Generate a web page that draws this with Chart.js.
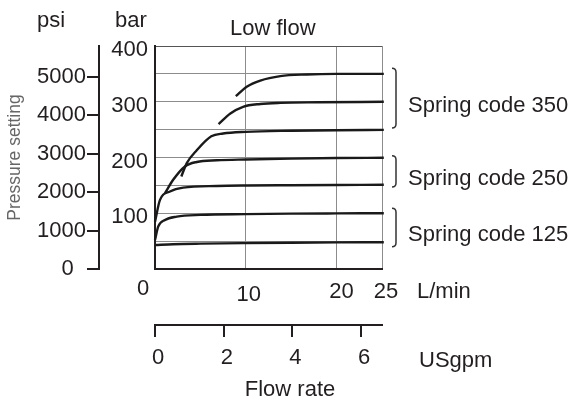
<!DOCTYPE html>
<html lang="en">
  <head>
    <meta charset="UTF-8" />
    <title>Low flow pressure setting</title>
    <script src="https://cdn.jsdelivr.net/npm/chart.js"></script>
    <style>
      body {
        margin: 0;
        background: #fff;
      }
      canvas {
        display: block;
      }
    </style>
  </head>
  <body>
    <canvas id="myChart" width="576" height="403"></canvas>
    <script>
      // flow in L/min, pressure in bar
      const curve1Flow = [0, 2, 5, 10, 15, 20, 25.2];
      const curve1Bar = [43, 44.5, 45.5, 46.5, 47.2, 47.7, 48];
      const curve2Flow = [0, 0.35, 1.1, 2.4, 5, 10, 15, 20, 25.2];
      const curve2Bar = [52, 76, 88, 94, 97, 98.5, 99.3, 99.7, 100];
      const curve3Flow = [0, 0.55, 1.65, 3.1, 6.8, 10, 15, 20, 25.2];
      const curve3Bar = [85, 124, 139, 146, 149, 149.8, 150.3, 150.7, 151];
      const curve4Flow = [1.1, 2.0, 3.3, 4.6, 6.8, 10, 15, 20, 25.2];
      const curve4Bar = [136, 160, 184, 192, 195, 196.5, 198, 199, 199.5];
      const curve5Flow = [2.9, 3.5, 4.6, 6.2, 7.5, 10, 15, 20, 25.2];
      const curve5Bar = [166, 190, 213, 238, 243, 246, 248, 249, 249.5];
      const curve6Flow = [7.0, 8.3, 9.7, 11.6, 13.8, 18, 25.2];
      const curve6Bar = [260, 279, 291, 296, 298, 299, 300];
      const curve7Flow = [8.9, 10.1, 11.6, 13.8, 16.7, 20, 25.2];
      const curve7Bar = [310, 327, 338, 346, 349, 350, 350];

      const flowTicks = [0, 10, 20, 25];
      const gpmTicks = [0, 2, 4, 6];
      const psiTicks = [0, 1000, 2000, 3000, 4000, 5000];

      // spring code groups: label and bar range covered by the bracket
      const springLabels = ["Spring code 350", "Spring code 250", "Spring code 125"];
      const springLow = [253, 147, 40];
      const springHigh = [360, 203, 109];

      const LPM_PER_GPM = 3.78541;
      const PSI_PER_BAR = 14.5038;
      const FONT = '"Liberation Sans", Arial, sans-serif';
      const INK = "#231f20";

      function pts(xs, ys) {
        return xs.map((v, i) => ({ x: v, y: ys[i] }));
      }

      const curves = [
        [curve1Flow, curve1Bar],
        [curve2Flow, curve2Bar],
        [curve3Flow, curve3Bar],
        [curve4Flow, curve4Bar],
        [curve5Flow, curve5Bar],
        [curve6Flow, curve6Bar],
        [curve7Flow, curve7Bar],
      ];

      // free text, x tick labels and the brackets
      const extras = {
        id: "extras",
        afterDraw(chart) {
          const ctx = chart.ctx;
          const xs = chart.scales.x;
          const ys = chart.scales.y;
          ctx.save();
          ctx.fillStyle = INK;
          ctx.font = "22px " + FONT;
          ctx.textBaseline = "alphabetic";
          ctx.textAlign = "left";
          ctx.fillText("psi", 37, 27);
          ctx.fillText("bar", 115, 27);
          ctx.fillText("Low flow", 230, 35);
          ctx.fillText("L/min", 417, 298);
          ctx.fillText("USgpm", 419, 367);
          ctx.textAlign = "center";
          ctx.fillText("Flow rate", 290, 396);

          // L/min tick labels sit a little off their ticks in the original
          const nudge = [[-12, 295], [3, 301], [5, 298], [4, 298]];
          flowTicks.forEach((v, i) => {
            ctx.fillText(String(v), xs.getPixelForValue(v) + nudge[i][0], nudge[i][1]);
          });

          // brackets + spring code labels
          ctx.strokeStyle = "#333";
          ctx.lineWidth = 1.5;
          ctx.textAlign = "left";
          springLabels.forEach((label, i) => {
            const t = ys.getPixelForValue(springHigh[i]);
            const b = ys.getPixelForValue(springLow[i]);
            const bx = 396;
            ctx.beginPath();
            ctx.moveTo(bx - 4, t);
            ctx.quadraticCurveTo(bx, t, bx, t + 4);
            ctx.lineTo(bx, b - 4);
            ctx.quadraticCurveTo(bx, b, bx - 4, b);
            ctx.stroke();
            ctx.fillText(label, 408, (t + b) / 2 + 14);
          });
          ctx.restore();
        },
      };

      const ctx = document.getElementById("myChart").getContext("2d");
      new Chart(ctx, {
        type: "line",
        data: {
          datasets: curves.map((c) => ({
            data: pts(c[0], c[1]),
            borderColor: "#1a1a1a",
            borderWidth: 2.4,
            pointRadius: 0,
            fill: false,
            cubicInterpolationMode: "monotone",
            clip: false,
          })),
        },
        options: {
          responsive: false,
          animation: false,
          layout: { padding: { top: 46, right: 194, bottom: 0, left: 0 } },
          plugins: {
            legend: { display: false },
            tooltip: { enabled: false },
          },
          scales: {
            x: {
              type: "linear",
              position: "bottom",
              weight: 0,
              min: 0,
              max: 25,
              afterBuildTicks: (s) => {
                s.ticks = flowTicks.map((v) => ({ value: v }));
              },
              afterFit: (s) => {
                s.height = 56;
              },
              ticks: { display: false, autoSkip: false },
              grid: {
                drawTicks: false,
                lineWidth: 1,
                color: (c) => (c.tick && c.tick.value === 0 ? "rgba(0,0,0,0)" : "#8c8c8c"),
              },
              border: { color: INK, width: 2 },
            },
            gpm: {
              type: "linear",
              position: "bottom",
              weight: 1,
              min: 0,
              max: 25 / LPM_PER_GPM,
              afterBuildTicks: (s) => {
                s.ticks = gpmTicks.map((v) => ({ value: v }));
              },
              afterFit: (s) => {
                s.height = 78;
              },
              ticks: {
                autoSkip: false,
                color: INK,
                font: { size: 22, family: FONT },
                padding: 8,
                labelOffset: 3,
                callback: (v) => String(v),
              },
              grid: {
                drawOnChartArea: false,
                tickLength: 12,
                color: INK,
                lineWidth: 2,
              },
              border: { color: INK, width: 2 },
            },
            y: {
              type: "linear",
              position: "left",
              weight: 0,
              min: 0,
              max: 400,
              afterFit: (s) => {
                s.width = 56;
              },
              ticks: {
                stepSize: 50,
                autoSkip: false,
                color: INK,
                font: { size: 22, family: FONT },
                padding: 7,
                labelOffset: 4,
                callback: (v) => (v > 0 && v % 100 === 0 ? String(v) : ""),
              },
              grid: {
                drawTicks: false,
                lineWidth: 1,
                color: (c) => {
                  if (!c.tick || c.tick.value === 0) return "rgba(0,0,0,0)";
                  return c.tick.value === 400 ? "#555" : "#8c8c8c";
                },
              },
              border: { color: INK, width: 2 },
            },
            psi: {
              type: "linear",
              position: "left",
              weight: 1,
              min: 0,
              max: 400 * PSI_PER_BAR,
              afterBuildTicks: (s) => {
                s.ticks = psiTicks.map((v) => ({ value: v }));
              },
              afterFit: (s) => {
                s.width = 99;
              },
              ticks: {
                autoSkip: false,
                color: INK,
                font: { size: 22, family: FONT },
                padding: 1,
                // the zero sits further from its tick in the original
                callback: (v) => (v === 0 ? "0  " : String(v)),
              },
              grid: {
                drawOnChartArea: false,
                tickLength: 12,
                color: INK,
                lineWidth: 2,
              },
              border: { color: INK, width: 2 },
              title: {
                display: true,
                text: "Pressure setting",
                color: "#666",
                font: { size: 17.5, family: FONT },
                padding: { top: 5, bottom: 0 },
              },
            },
          },
        },
        plugins: [extras],
      });
    </script>
  </body>
</html>
